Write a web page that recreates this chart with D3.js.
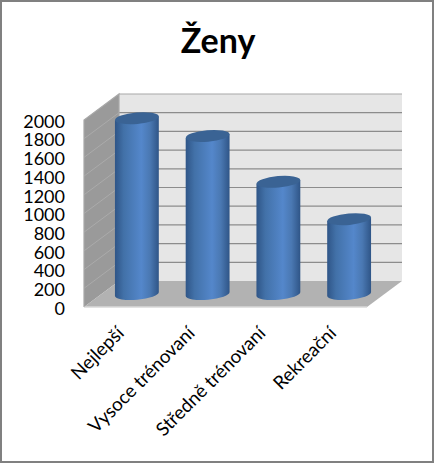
<!DOCTYPE html>
<html>
<head>
  <title>Ženy</title>
  <style>
    html, body {
      margin: 0;
      padding: 0;
      background: #fff;
    }

    svg {
      display: block;
    }

    .title {
      font-family: Lato, sans-serif;
      font-size: 34px;
      font-weight: bold;
      text-anchor: middle;
    }

    .tick text {
      font-family: Lato, sans-serif;
      font-size: 18px;
      fill: #000;
    }

    .cat-label {
      font-family: Lato, sans-serif;
      font-size: 18.7px;
      text-anchor: end;
    }
  </style>
</head>
<body>
  <svg id="chart"></svg>

  <script src="https://d3js.org/d3.v7.min.js"></script>
  <script>
    const categories = ["Nejlepší", "Vysoce trénovaní", "Středně trénovaní", "Rekreační"];
    const values = [1880, 1690, 1200, 800];
    const tickValues = [0, 200, 400, 600, 800, 1000, 1200, 1400, 1600, 1800, 2000];

    const width = 435;
    const height = 464;

    // front edge of the floor, the back wall sits one depth step up and right
    const frontLeft = 84;
    const frontRight = 367;
    const frontBottom = 307;
    const frontTop = 120;
    const depthX = 35;
    const depthY = -26;

    const x = d3.scaleBand()
      .domain(categories)
      .range([frontLeft + depthX / 2, frontRight + depthX / 2])
      .paddingInner(0.38)
      .paddingOuter(0.19);

    const y = d3.scaleLinear()
      .domain([0, 2000])
      .range([frontBottom, frontTop]);

    const svg = d3.select("#chart")
      .attr("width", width)
      .attr("height", height);

    // Gradient across the cylinders
    const defs = svg.append("defs");
    const grad = defs.append("linearGradient")
      .attr("id", "cyl")
      .attr("x1", 0).attr("x2", 1).attr("y1", 0).attr("y2", 0);
    grad.selectAll("stop")
      .data([[0, "#2f5587"], [0.2, "#4271a8"], [0.6, "#5487cb"], [0.8, "#4a78b2"], [1, "#2f5587"]])
      .enter()
      .append("stop")
      .attr("offset", d => d[0])
      .attr("stop-color", d => d[1]);

    // Outer frame
    svg.append("rect")
      .attr("x", 1)
      .attr("y", 1)
      .attr("width", width - 3)
      .attr("height", height - 3)
      .attr("fill", "#fff")
      .attr("stroke", "#808080")
      .attr("stroke-width", 2);

    svg.append("text")
      .attr("class", "title")
      .attr("x", 218)
      .attr("y", 53)
      .text("Ženy");

    const poly = pts => "M" + pts.map(p => p.join(",")).join("L") + "Z";

    // Back wall
    svg.append("path")
      .attr("d", poly([
        [frontLeft + depthX, y(2000) + depthY],
        [frontRight + depthX, y(2000) + depthY],
        [frontRight + depthX, y(0) + depthY],
        [frontLeft + depthX, y(0) + depthY]
      ]))
      .attr("fill", "#e6e6e6");

    // Left wall
    svg.append("path")
      .attr("d", poly([
        [frontLeft, y(2000)],
        [frontLeft + depthX, y(2000) + depthY],
        [frontLeft + depthX, y(0) + depthY],
        [frontLeft, y(0)]
      ]))
      .attr("fill", "#9a9a9a");

    // Floor
    svg.append("path")
      .attr("d", poly([
        [frontLeft, y(0)],
        [frontLeft + depthX, y(0) + depthY],
        [frontRight + depthX, y(0) + depthY],
        [frontRight, y(0)]
      ]))
      .attr("fill", "#b2b2b2");

    // Floor front edge
    svg.append("line")
      .attr("x1", frontLeft).attr("x2", frontRight)
      .attr("y1", y(0)).attr("y2", y(0))
      .attr("stroke", "#d9d9d9")
      .attr("stroke-width", 1.5);

    // Gridlines, wall and back
    svg.selectAll(".grid-back")
      .data(tickValues.slice(1))
      .enter()
      .append("line")
      .attr("class", "grid-back")
      .attr("x1", frontLeft + depthX)
      .attr("x2", frontRight + depthX)
      .attr("y1", d => y(d) + depthY)
      .attr("y2", d => y(d) + depthY)
      .attr("stroke", d => d === 2000 ? "#a8a8a8" : "#8c8c8c")
      .attr("stroke-width", 1.2);

    svg.selectAll(".grid-side")
      .data(tickValues.slice(1, -1))
      .enter()
      .append("line")
      .attr("class", "grid-side")
      .attr("x1", frontLeft)
      .attr("x2", frontLeft + depthX)
      .attr("y1", d => y(d))
      .attr("y2", d => y(d) + depthY)
      .attr("stroke", "#ababab")
      .attr("stroke-width", 1);

    // Wall edges
    svg.append("path")
      .attr("d", `M${frontLeft},${y(0)}V${y(2000)}L${frontLeft + depthX},${y(2000) + depthY}V${y(0) + depthY}`)
      .attr("fill", "none")
      .attr("stroke", "#a8a8a8")
      .attr("stroke-width", 1.2);

    // Cylinders, standing half way into the floor
    const ry = 5.7;
    const tilt = -5;
    const bars = svg.selectAll(".bar")
      .data(categories.map((c, i) => ({ c, v: values[i] })))
      .enter()
      .append("g")
      .attr("class", "bar");

    function ends(d) {
      const rx = x.bandwidth() / 2;
      const cx = x(d.c) + rx;
      const dy = rx * Math.sin(-tilt * Math.PI / 180);
      const top = y(d.v) + depthY / 2;
      const bottom = y(0) + depthY / 2;
      return { rx, cx, dy, top, bottom };
    }

    bars.append("path")
      .attr("fill", "url(#cyl)")
      .attr("d", d => {
        const e = ends(d);
        return `M${e.cx - e.rx},${e.top + e.dy}` +
          `L${e.cx - e.rx},${e.bottom + e.dy}` +
          `A${e.rx},${ry} ${tilt} 0 0 ${e.cx + e.rx},${e.bottom - e.dy}` +
          `L${e.cx + e.rx},${e.top - e.dy}Z`;
      });

    bars.append("ellipse")
      .attr("rx", d => ends(d).rx)
      .attr("ry", ry)
      .attr("fill", "#3a6394")
      .attr("transform", d => {
        const e = ends(d);
        return `translate(${e.cx},${e.top}) rotate(${tilt})`;
      });

    // Value axis
    svg.append("g")
      .attr("transform", "translate(76,1.5)")
      .call(d3.axisLeft(y).tickValues(tickValues).tickSize(0).tickPadding(11).tickFormat(d3.format("d")))
      .call(g => g.select(".domain").remove());

    // Category labels, rotated 45 degrees, ending under each bar
    svg.selectAll(".cat-label")
      .data(categories)
      .enter()
      .append("text")
      .attr("class", "cat-label")
      .attr("transform", d => `translate(${x(d) + x.bandwidth() / 2 - 21},325) rotate(-45)`)
      .attr("dy", "0.7em")
      .text(d => d);
  </script>
</body>
</html>
